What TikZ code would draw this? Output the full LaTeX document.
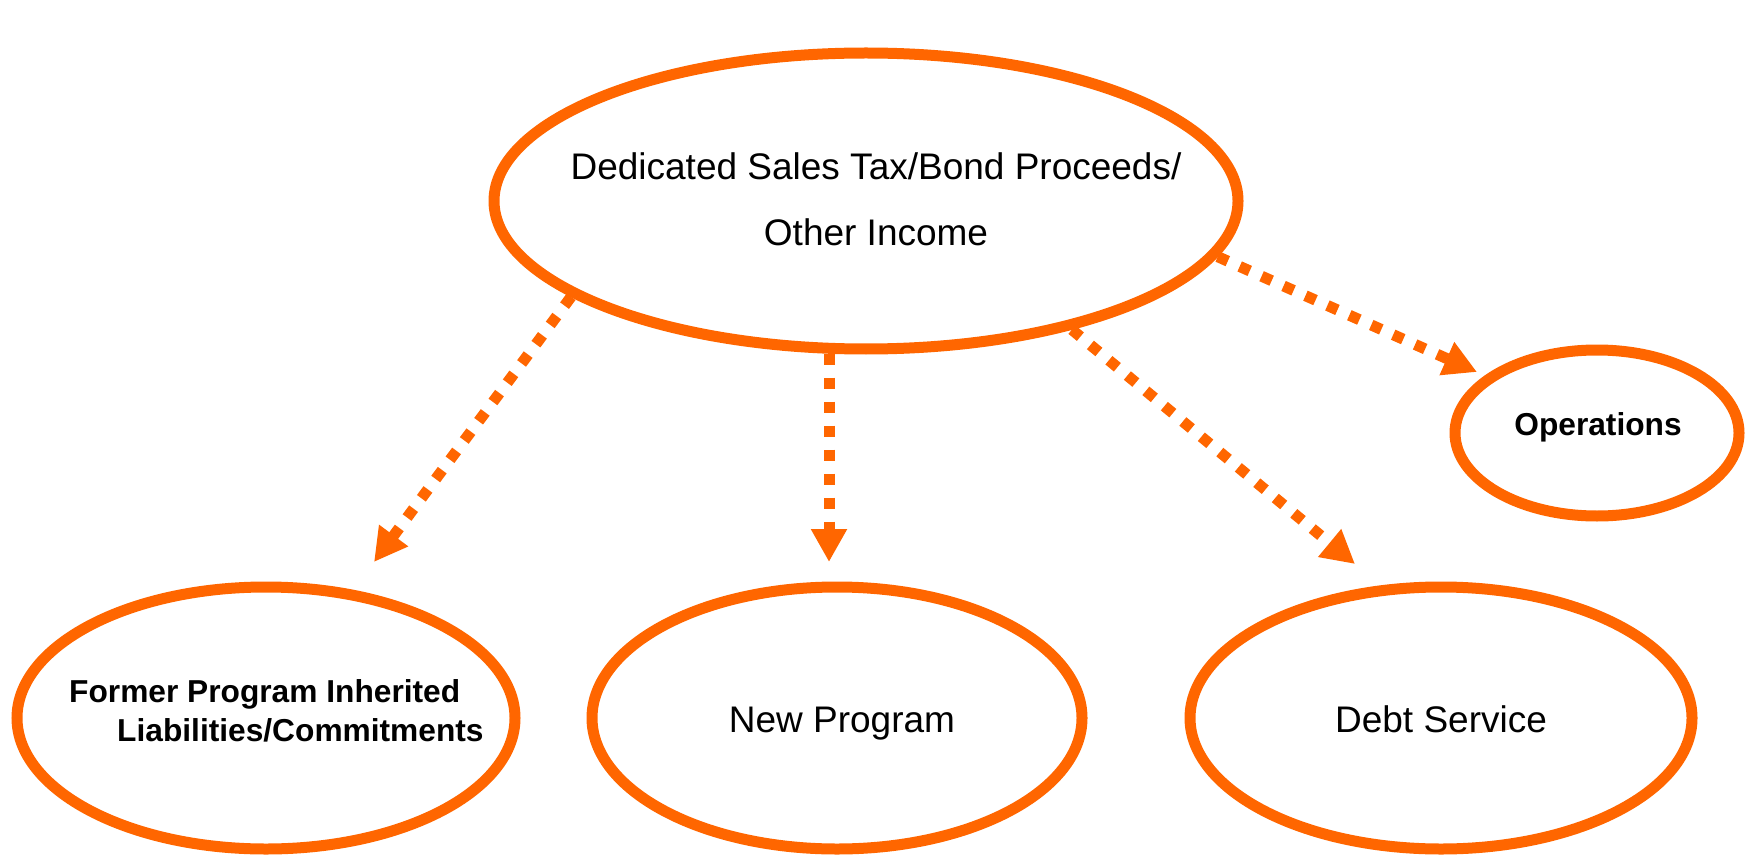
\documentclass[tikz,border=0pt]{standalone}
\usepackage{fontspec}
\setmainfont{Liberation Sans}
\usetikzlibrary{shapes.geometric,arrows.meta}
\definecolor{orng}{RGB}{255,102,0}
\tikzset{
  oval/.style={ellipse, draw=orng, line width=11pt, inner sep=0pt},
  flow/.style={draw=orng, line width=11pt, dash pattern=on 11pt off 13pt,
    -{Triangle[length=33pt,width=34pt]}},
  reg/.style={font=\fontsize{37}{66}\selectfont, inner sep=0pt, align=center},
  bld/.style={font=\fontsize{31.7}{39}\selectfont\bfseries, inner sep=0pt},
}
\begin{document}
\begin{tikzpicture}[x=1pt,y=-1pt]
\useasboundingbox (0,0) rectangle (1752,858);
\fill[white] (0,0) rectangle (1752,858);
% ellipses
\node[oval, minimum width=744pt, minimum height=296pt] (top) at (866,201) {};
\node[oval, minimum width=284pt, minimum height=166pt] (ops) at (1597,433) {};
\node[oval, minimum width=498pt, minimum height=262pt] (former) at (266,718) {};
\node[oval, minimum width=490pt, minimum height=262pt] (newp) at (837,718) {};
\node[oval, minimum width=502pt, minimum height=262pt] (debt) at (1441,718) {};
% texts
\node[reg] (toptext) at (876,199.5) {Dedicated Sales Tax/Bond Proceeds/\\Other Income};
\node[bld, anchor=base] (opstext) at (1598,435) {Operations};
\node[bld, anchor=base west] (formertextA) at (69,702) {Former Program Inherited};
\node[bld, anchor=base west] (formertextB) at (117,741) {Liabilities/Commitments};
\node[reg, anchor=base] (newptext) at (842,732) {New Program};
\node[reg, anchor=base] (debttext) at (1441,732) {Debt Service};
% arrow end points
\coordinate (t1) at (374,562);
\coordinate (t2) at (829,562);
\coordinate (t3) at (1355,564);
\coordinate (t4) at (1477,372);
\draw[flow] (top.198.7) -- (t1);
\draw[flow] (t2 |- top.256.5) -- (t2);
\draw[flow] (top.328.4) -- (t3);
\draw[flow] (top.351.2) -- (t4);
\end{tikzpicture}
\end{document}
